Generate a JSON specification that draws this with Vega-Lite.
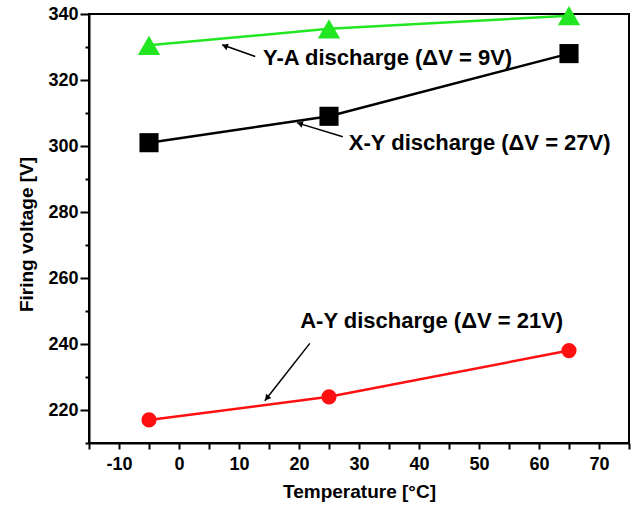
{
  "$schema": "https://vega.github.io/schema/vega-lite/v6.json",
  "width": 540,
  "height": 429,
  "autosize": {"type": "none"},
  "padding": {"left": 89, "top": 14, "right": 3, "bottom": 64},
  "background": "white",
  "config": {
    "view": {"stroke": "black", "strokeWidth": 2},
    "axis": {
      "grid": false,
      "domainColor": "black",
      "domainWidth": 2,
      "tickColor": "black",
      "tickWidth": 2,
      "labelFont": "Liberation Sans",
      "labelFontWeight": "bold",
      "labelFontSize": 18,
      "labelColor": "black",
      "labelOverlap": false,
      "labelFlush": false,
      "titleFont": "Liberation Sans",
      "titleFontWeight": "bold",
      "titleFontSize": 19,
      "titleColor": "black"
    }
  },
  "resolve": {"axis": {"x": "independent", "y": "independent"}},
  "datasets": {
    "pts": [
      {"series": "Y-A", "temp": -5, "voltage": 330.5},
      {"series": "Y-A", "temp": 25, "voltage": 335.5},
      {"series": "Y-A", "temp": 65, "voltage": 339.5},
      {"series": "X-Y", "temp": -5, "voltage": 301},
      {"series": "X-Y", "temp": 25, "voltage": 309},
      {"series": "X-Y", "temp": 65, "voltage": 328},
      {"series": "A-Y", "temp": -5, "voltage": 217},
      {"series": "A-Y", "temp": 25, "voltage": 224},
      {"series": "A-Y", "temp": 65, "voltage": 238}
    ],
    "labels": [
      {"x": 14, "y": 326.8, "text": "Y-A discharge (ΔV = 9V)"},
      {"x": 28.3, "y": 301, "text": "X-Y discharge (ΔV = 27V)"},
      {"x": 20.2, "y": 247, "text": "A-Y discharge (ΔV = 21V)"}
    ],
    "arrows": [
      {"name": "Y-A", "x": 12.7, "y": 327.1, "x2": 7.2, "y2": 330.7},
      {"name": "X-Y", "x": 27.3, "y": 302.8, "x2": 19.7, "y2": 307.0},
      {"name": "A-Y", "x": 21.8, "y": 240.2, "x2": 14.3, "y2": 222.8}
    ],
    "headYA": [{"x": 7.8, "y": 330.2}],
    "headXY": [{"x": 20.3, "y": 306.7}],
    "headAY": [{"x": 14.75, "y": 223.8}]
  },
  "layer": [
    {
      "data": {"name": "pts"},
      "mark": {"type": "line", "strokeWidth": 2.5},
      "encoding": {
        "x": {
          "field": "temp",
          "type": "quantitative",
          "scale": {"domain": [-15, 75], "nice": false, "zero": false},
          "axis": {
            "title": "Temperature [°C]",
            "values": [-10, 0, 10, 20, 30, 40, 50, 60, 70],
            "labelExpr": "toString(datum.value)",
            "tickSize": 6,
            "labelPadding": 6,
            "titlePadding": 9
          }
        },
        "y": {
          "field": "voltage",
          "type": "quantitative",
          "scale": {"domain": [210, 340], "nice": false, "zero": false},
          "axis": {
            "title": "Firing voltage [V]",
            "values": [220, 240, 260, 280, 300, 320, 340],
            "tickSize": 9,
            "labelPadding": 2,
            "titlePadding": 11,
            "titleY": 220
          }
        },
        "color": {
          "field": "series",
          "type": "nominal",
          "scale": {"domain": ["Y-A", "X-Y", "A-Y"], "range": ["#22e622", "#000000", "#ff1010"]},
          "legend": null
        },
        "detail": {"field": "series"}
      }
    },
    {
      "data": {"name": "pts"},
      "mark": {"type": "point", "filled": true, "opacity": 1},
      "encoding": {
        "x": {
          "field": "temp",
          "type": "quantitative",
          "axis": {"orient": "bottom", "values": [-15, -5, 5, 15, 25, 35, 45, 55, 65, 75], "labels": false, "domain": false, "title": null, "tickSize": 6}
        },
        "y": {
          "field": "voltage",
          "type": "quantitative",
          "axis": {"orient": "left", "values": [210, 230, 250, 270, 290, 310, 330], "labels": false, "domain": false, "title": null, "tickSize": 4}
        },
        "color": {"field": "series", "type": "nominal", "legend": null},
        "shape": {
          "field": "series",
          "type": "nominal",
          "scale": {"domain": ["Y-A", "X-Y", "A-Y"], "range": ["triangle-up", "square", "circle"]},
          "legend": null
        },
        "size": {
          "field": "series",
          "type": "nominal",
          "scale": {"domain": ["Y-A", "X-Y", "A-Y"], "range": [500, 230, 320]},
          "legend": null
        }
      }
    },
    {
      "data": {"name": "arrows"},
      "mark": {"type": "rule", "color": "black", "strokeWidth": 1.5},
      "encoding": {
        "x": {"field": "x", "type": "quantitative", "axis": null},
        "y": {"field": "y", "type": "quantitative", "axis": null},
        "x2": {"field": "x2"},
        "y2": {"field": "y2"}
      }
    },
    {
      "data": {"name": "headYA"},
      "mark": {"type": "point", "shape": "triangle", "filled": true, "color": "black", "opacity": 1, "size": 45, "angle": 290},
      "encoding": {"x": {"field": "x", "type": "quantitative", "axis": null}, "y": {"field": "y", "type": "quantitative", "axis": null}}
    },
    {
      "data": {"name": "headXY"},
      "mark": {"type": "point", "shape": "triangle", "filled": true, "color": "black", "opacity": 1, "size": 45, "angle": 287},
      "encoding": {"x": {"field": "x", "type": "quantitative", "axis": null}, "y": {"field": "y", "type": "quantitative", "axis": null}}
    },
    {
      "data": {"name": "headAY"},
      "mark": {"type": "point", "shape": "triangle", "filled": true, "color": "black", "opacity": 1, "size": 45, "angle": 218},
      "encoding": {"x": {"field": "x", "type": "quantitative", "axis": null}, "y": {"field": "y", "type": "quantitative", "axis": null}}
    },
    {
      "data": {"name": "labels"},
      "mark": {"type": "text", "align": "left", "baseline": "middle", "font": "Liberation Sans", "fontWeight": "bold", "fontSize": 22, "color": "black"},
      "encoding": {
        "x": {"field": "x", "type": "quantitative", "axis": null},
        "y": {"field": "y", "type": "quantitative", "axis": null},
        "text": {"field": "text"}
      }
    }
  ]
}
